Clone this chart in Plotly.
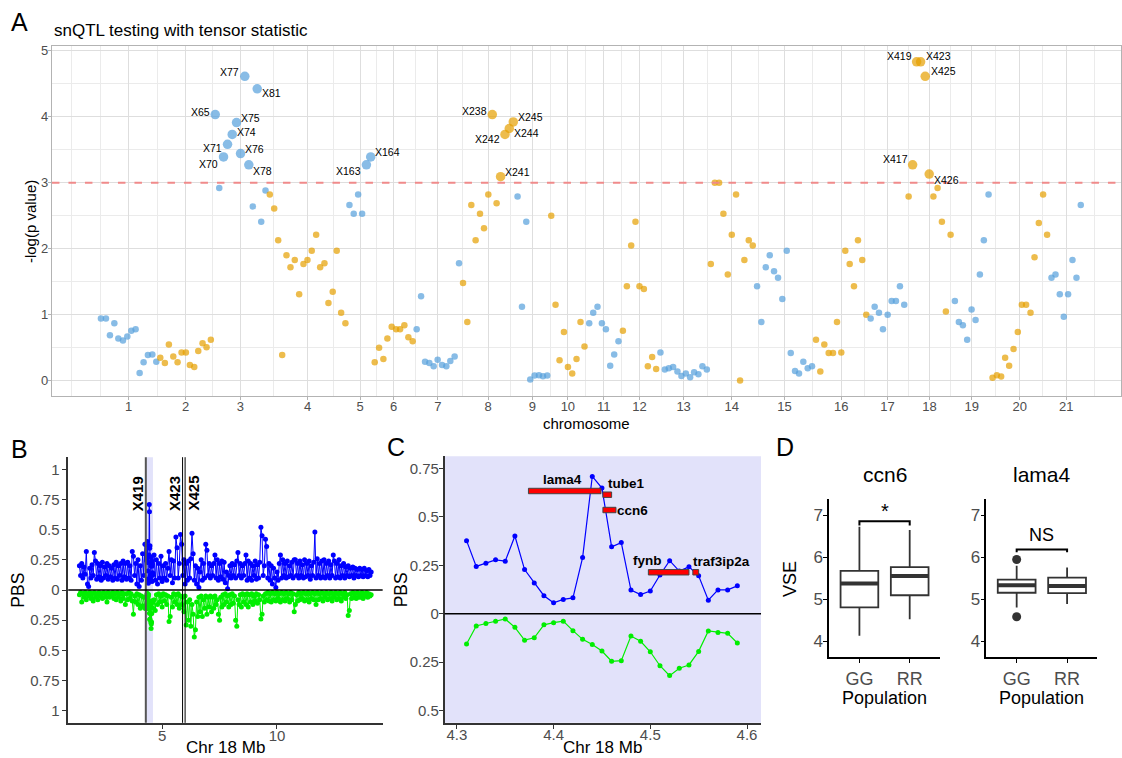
import numpy as np
import plotly.graph_objects as go

FONT = "Liberation Sans, Arial, Helvetica, sans-serif"
W, H = 1122, 758
TICK_GREY = "#4D4D4D"

# ---------------- A: genome-wide snQTL scan ----------------
# cumulative marker position and -log10(p) for each chromosome
chrom_pos = [
    [100.3, 105.3, 109.3, 113.7, 117.7, 122.3, 126.7, 130.7, 135.0, 139.0, 143.0, 147.3, 151.7, 155.7],
    [159.7, 164.3, 168.3, 172.7, 177.0, 181.0, 185.3, 189.3, 193.7, 197.7, 202.0, 206.0, 210.3],
    [214.7, 218.7, 223.0, 227.0, 231.7, 236.0, 240.0, 244.3, 248.3, 252.3, 256.7, 260.7, 265.0],
    [269.3, 273.7, 277.7, 281.7, 286.0, 290.0, 294.3, 298.7, 303.0, 307.0, 311.3, 315.7, 319.7, 324.0,
     328.0, 332.3, 336.3, 340.7, 345.0],
    [349.0, 353.3, 357.7, 361.7, 366.0, 370.3],
    [374.3, 378.7, 383.0, 387.0, 391.3, 395.7, 399.7, 404.0, 408.0, 412.3],
    [416.3, 420.7, 424.7, 429.0, 433.3, 437.3, 441.7, 446.0, 450.0, 454.3, 458.7],
    [462.7, 467.0, 471.0, 475.3, 479.7, 483.7, 488.0, 492.0, 496.3, 500.3, 504.7, 509.0, 513.0],
    [517.3, 521.7, 526.0, 530.0, 534.3, 538.7, 542.7, 547.0],
    [551.0, 555.3, 559.3, 563.7, 567.7, 572.0, 576.3, 580.3, 584.3],
    [589.0, 593.0, 597.3, 601.7, 605.7, 610.0, 614.0, 618.3],
    [622.7, 626.7, 631.0, 635.3, 639.3, 643.7, 647.7, 652.0, 656.0],
    [660.3, 664.7, 668.7, 673.0, 677.3, 681.3, 685.7, 690.0, 694.0, 698.3, 702.3, 706.7],
    [710.7, 714.7, 719.0, 723.3, 727.7, 731.7, 736.0, 740.0, 744.3, 748.7, 752.7],
    [757.0, 761.3, 765.7, 769.7, 774.0, 778.0, 782.3, 786.7, 790.7, 795.0, 799.0, 803.3, 807.7, 812.0],
    [816.0, 820.3, 824.3, 828.7, 833.0, 837.0, 841.3, 845.3, 849.7, 854.0, 858.0, 862.3, 866.3],
    [870.7, 874.7, 879.0, 883.0, 887.7, 891.7, 896.0, 900.0, 904.3],
    [908.7, 912.7, 916.7, 920.7, 925.3, 929.3, 933.5, 937.7, 942.0, 946.0, 950.7],
    [955.0, 959.0, 963.0, 967.3, 971.7, 975.7, 980.0, 984.0, 988.7],
    [992.7, 997.0, 1001.3, 1005.3, 1009.3, 1013.7, 1018.0, 1022.0, 1026.3, 1030.7, 1034.7, 1039.0,
     1043.3, 1047.3],
    [1051.7, 1055.7, 1060.0, 1064.0, 1068.3, 1072.7, 1076.7, 1081.0],
]
chrom_logp = [
    [0.945, 0.945, 0.69, 0.87, 0.64, 0.61, 0.67, 0.76, 0.78, 0.12, 0.28, 0.39, 0.40, 0.29],
    [0.35, 0.27, 0.55, 0.37, 0.28, 0.43, 0.43, 0.24, 0.21, 0.45, 0.57, 0.51, 0.62],
    [4.03, 2.92, 3.39, 3.58, 3.73, 3.91, 3.44, 4.61, 3.27, 2.64, 4.42, 2.41, 2.88],
    [2.82, 2.61, 2.13, 0.39, 1.90, 1.72, 1.83, 1.31, 1.77, 1.83, 1.97, 2.21, 1.72, 1.78, 1.18, 1.35,
     1.97, 1.03, 0.87],
    [2.66, 2.53, 2.82, 2.53, 3.27, 3.39],
    [0.28, 0.50, 0.33, 0.64, 0.82, 0.78, 0.78, 0.84, 0.66, 0.60],
    [0.78, 1.28, 0.29, 0.27, 0.22, 0.32, 0.24, 0.22, 0.30, 0.37, 1.78],
    [1.48, 0.89, 2.66, 2.13, 2.53, 2.31, 2.82, 4.03, 2.69, 3.09, 3.73, 3.82, 3.92],
    [2.79, 1.12, 2.41, 0.02, 0.08, 0.085, 0.07, 0.08],
    [2.50, 1.15, 0.31, 0.74, 0.21, 0.11, 0.33, 0.89, 0.52],
    [0.87, 1.03, 1.12, 0.87, 0.78, 0.23, 0.40, 0.60],
    [0.76, 1.43, 2.05, 2.41, 1.43, 1.39, 0.22, 0.36, 0.18],
    [0.43, 0.17, 0.19, 0.21, 0.14, 0.075, 0.11, 0.055, 0.13, 0.10, 0.22, 0.17],
    [1.77, 3.00, 3.00, 2.53, 1.61, 2.21, 2.82, 0.005, 1.83, 2.13, 2.05],
    [1.43, 0.89, 1.72, 1.90, 1.66, 1.56, 1.24, 1.97, 0.42, 0.15, 0.11, 0.29, 0.19, 0.22],
    [0.62, 0.14, 0.55, 0.42, 0.42, 0.89, 0.43, 1.97, 1.77, 1.43, 2.13, 1.83, 1.00],
    [0.945, 1.12, 1.03, 0.78, 1.00, 1.21, 1.21, 1.43, 1.15],
    [2.79, 3.27, 4.83, 4.83, 4.61, 3.13, 2.79, 2.92, 2.41, 1.05, 2.21],
    [1.21, 0.89, 0.84, 0.62, 1.08, 0.92, 1.61, 2.13, 2.82],
    [0.045, 0.085, 0.065, 0.35, 0.23, 0.48, 0.74, 1.15, 1.15, 1.03, 1.87, 2.39, 2.82, 2.21],
    [1.56, 1.61, 1.31, 0.97, 1.31, 1.83, 1.56, 2.66],
]
chrom_names = [str(i) for i in range(1, 22)]
sig_threshold = 3.0
sig_labels = ["X65", "X70", "X71", "X74", "X75", "X76", "X77", "X78", "X81", "X163", "X164",
              "X238", "X241", "X242", "X244", "X245", "X417", "X419", "X423", "X425", "X426"]
# label placement (pixels right, pixels down) relative to each point
sig_label_offset = [(-15, -3), (-15, 7), (-15, 4), (14, -2), (14, -5), (14, -5), (-15, -4), (14, 6),
                    (14, 4), (-18, 6), (17, -5), (-18, -4), (17, -5), (-17, 5), (17, 5), (17, -5),
                    (-17, -6), (-17, -6), (18, -6), (18, -5), (17, 6)]

# ---------------- B / C: PBS along chromosome 18 ----------------
# 50 kb windows outside the focal region (start Mb, step Mb)
pbs_left_start, pbs_right_start, pbs_step = 1.40, 4.65, 0.05
pbs_rr_left = [0.20, 0.12, 0.22, 0.10, 0.19, 0.13, 0.32, 0.05, 0.03, 0.18,
               0.10, 0.21, 0.12, 0.31, 0.24, 0.09, 0.22, 0.11, 0.20, 0.08,
               0.23, 0.10, 0.19, 0.12, 0.22, 0.09, 0.20, 0.11, 0.18, 0.08,
               0.21, 0.10, 0.23, 0.09, 0.20, 0.12, 0.22, 0.08, 0.24, 0.11,
               0.22, 0.09, 0.23, 0.10, 0.20, 0.08, 0.32, 0.28, 0.12, 0.22,
               0.05, 0.25, 0.03, 0.20, 0.08, 0.30, 0.12, 0.38]
pbs_gg_left = [0.04, 0.02, 0.10, 0.03, 0.06, 0.02, 0.08, 0.03, 0.05, 0.02,
               0.07, 0.03, 0.09, 0.02, 0.06, 0.03, 0.08, 0.02, 0.05, 0.03,
               0.07, 0.02, 0.06, 0.03, 0.10, 0.02, 0.06, 0.03, 0.05, 0.02,
               0.07, 0.03, 0.08, 0.02, 0.06, 0.03, 0.09, 0.02, 0.07, 0.03,
               0.12, 0.03, 0.08, 0.02, 0.07, 0.03, 0.09, 0.20, 0.05, 0.10,
               0.03, 0.12, 0.04, 0.15, 0.05, 0.13, 0.06, 0.15]
pbs_rr_right = [0.29, 0.08, 0.25, 0.05, 0.22, 0.10, 0.28, 0.07, 0.20, 0.10,
                0.22, 0.08, 0.18, 0.32, 0.12, 0.25, 0.06, 0.24, 0.10, 0.44,
                0.35, 0.10, 0.22, 0.46, 0.38, 0.12, 0.25, 0.05, 0.22, 0.08,
                0.24, 0.10, 0.26, 0.47, 0.30, 0.08, 0.20, 0.05, 0.18, 0.02,
                0.15, 0.25, 0.08, 0.22, 0.10, 0.38, 0.33, 0.12, 0.22, 0.10,
                0.20, 0.12, 0.22, 0.29, 0.10, 0.25, 0.08, 0.22, 0.11, 0.24,
                0.09, 0.23, 0.06, 0.15, 0.01, 0.12, 0.20, 0.10, 0.22, 0.12,
                0.21, 0.10, 0.24, 0.31, 0.12, 0.22, 0.10, 0.20, 0.12, 0.22,
                0.29, 0.08, 0.24, 0.10, 0.22, 0.08, 0.20, 0.12, 0.24, 0.09,
                0.21, 0.10, 0.23, 0.52, 0.45, 0.12, 0.20, 0.42, 0.36, 0.10,
                0.22, 0.08, 0.20, 0.05, 0.18, 0.10, 0.02, 0.15, 0.08, 0.22,
                0.29, 0.10, 0.25, 0.12, 0.22, 0.10, 0.24, 0.11, 0.20, 0.12,
                0.23, 0.10, 0.25, 0.25, 0.12, 0.22, 0.10, 0.24, 0.12, 0.21,
                0.10, 0.25, 0.11, 0.22, 0.12, 0.24, 0.09, 0.20, 0.12, 0.23,
                0.48, 0.10, 0.26, 0.12, 0.22, 0.10, 0.24, 0.11, 0.25, 0.10,
                0.22, 0.12, 0.24, 0.10, 0.21, 0.12, 0.29, 0.24, 0.10, 0.22,
                0.11, 0.25, 0.10, 0.20, 0.12, 0.22, 0.10, 0.19, 0.12, 0.20,
                0.11, 0.18, 0.12, 0.19, 0.10, 0.18, 0.12, 0.17, 0.11, 0.18,
                0.12, 0.17, 0.11, 0.18, 0.12, 0.16, 0.11, 0.17, 0.12, 0.15]
pbs_gg_right = [0.08, 0.17, 0.04, 0.12, 0.03, 0.10, 0.05, 0.14, 0.03, 0.09,
                0.04, 0.12, 0.05, 0.26, 0.22, 0.06, 0.14, 0.03, 0.10, 0.04,
                0.12, 0.03, 0.15, 0.05, 0.12, 0.06, 0.18, 0.05, 0.29, 0.10,
                0.25, 0.08, 0.30, 0.12, 0.20, 0.39, 0.33, 0.10, 0.22, 0.06,
                0.18, 0.05, 0.22, 0.08, 0.15, 0.05, 0.20, 0.06, 0.14, 0.05,
                0.18, 0.06, 0.15, 0.05, 0.12, 0.08, 0.20, 0.25, 0.06, 0.14,
                0.04, 0.12, 0.03, 0.10, 0.05, 0.14, 0.04, 0.12, 0.03, 0.11,
                0.05, 0.25, 0.30, 0.08, 0.12, 0.04, 0.14, 0.03, 0.10, 0.04,
                0.12, 0.03, 0.14, 0.04, 0.10, 0.03, 0.12, 0.05, 0.09, 0.03,
                0.11, 0.04, 0.08, 0.24, 0.20, 0.05, 0.10, 0.03, 0.08, 0.02,
                0.09, 0.03, 0.10, 0.02, 0.08, 0.03, 0.09, 0.02, 0.07, 0.03,
                0.10, 0.02, 0.08, 0.03, 0.09, 0.02, 0.07, 0.03, 0.10, 0.02,
                0.08, 0.03, 0.18, 0.12, 0.04, 0.09, 0.02, 0.08, 0.03, 0.07,
                0.02, 0.09, 0.03, 0.08, 0.02, 0.10, 0.03, 0.07, 0.02, 0.08,
                0.03, 0.12, 0.02, 0.08, 0.03, 0.07, 0.02, 0.09, 0.03, 0.06,
                0.02, 0.08, 0.03, 0.07, 0.02, 0.09, 0.03, 0.06, 0.02, 0.08,
                0.03, 0.07, 0.02, 0.09, 0.03, 0.06, 0.02, 0.07, 0.04, 0.21,
                0.17, 0.03, 0.07, 0.02, 0.06, 0.03, 0.07, 0.02, 0.06, 0.03,
                0.06, 0.02, 0.07, 0.03, 0.05, 0.02, 0.06, 0.03, 0.05, 0.04]
# 10 kb windows across the focal region
focal_start, focal_step = 4.31, 0.01
focal_rr = [0.377, 0.244, 0.261, 0.278, 0.271, 0.401, 0.228, 0.158, 0.093, 0.057, 0.074, 0.082, 0.290,
            0.708, 0.648, 0.345, 0.367, 0.122, 0.099, 0.117, 0.200, 0.274, 0.220, 0.242, 0.196, 0.070,
            0.123, 0.123, 0.144]
focal_gg = [0.156, 0.063, 0.050, 0.038, 0.027, 0.070, 0.136, 0.124, 0.057, 0.046, 0.038, 0.087, 0.132,
            0.158, 0.192, 0.245, 0.242, 0.115, 0.142, 0.196, 0.268, 0.319, 0.281, 0.264, 0.194, 0.089,
            0.096, 0.101, 0.151]
focal_region = [4.3, 4.6]
peak_markers = ["X419", "X423", "X425"]
peak_marker_mb = [4.29, 5.89, 6.00]

genes = ["lama4", "tube1", "ccn6", "fynb", "traf3ip2a"]
gene_start = [4.374, 4.451, 4.451, 4.498, 4.544]
gene_end = [4.449, 4.460, 4.4645, 4.540, 4.550]
gene_track = [0.633, 0.614, 0.535, 0.214, 0.214]
gene_label_offset = [(-2, -12), (19, -11), (23, 0), (-21, -12), (26, -11)]

# ---------------- D: VSE by population ----------------
box_genes = ["ccn6", "lama4"]
populations = ["GG", "RR"]
vse_q1 = [[4.81, 5.10], [5.16, 5.15]]
vse_median = [[5.38, 5.56], [5.34, 5.32]]
vse_q3 = [[5.68, 5.77], [5.47, 5.52]]
vse_low = [[4.14, 4.53], [4.81, 4.89]]
vse_high = [[6.73, 6.65], [5.80, 5.76]]
vse_outliers = [[[], []], [[5.95, 4.59], []]]
signif_text = ["*", "NS"]
signif_y = [6.86, 6.19]


def px_x(p):
    return p / W


def px_y(p):
    return 1 - p / H


fig = go.Figure()
shapes, annotations = [], []

# ---- A traces ----
BLUE_A, ORANGE_A = "#56A0DB", "#E69F00"
all_x, all_y = [], []
for i, (xs, ys) in enumerate(zip(chrom_pos, chrom_logp)):
    col = BLUE_A if i % 2 == 0 else ORANGE_A
    sizes = [9.5 if v > sig_threshold else 6.5 for v in ys]
    fig.add_trace(go.Scatter(x=xs, y=ys, mode="markers", xaxis="x", yaxis="y",
                             marker=dict(color=col, size=sizes, line=dict(width=0)),
                             showlegend=False, hoverinfo="skip"))
    all_x += xs
    all_y += ys

centers = [(min(xs) + max(xs)) / 2 for xs in chrom_pos]
step = centers[1] - centers[0]
ext = [centers[0] - step] + centers + [centers[-1] + step]
minor_x = [ext[0]] + [(a + b) / 2 for a, b in zip(ext[:-1], ext[1:])]

sig_pts = sorted([(x, y) for x, y in zip(all_x, all_y) if y > sig_threshold])
for (x, y), lab, (dx, dy) in zip(sig_pts, sig_labels, sig_label_offset):
    annotations.append(dict(x=x, y=y, xref="x", yref="y", text=lab, showarrow=False,
                            xshift=dx, yshift=-dy, font=dict(family=FONT, size=10.5, color="black")))

shapes.append(dict(type="line", xref="x domain", yref="y", x0=0, x1=1, y0=sig_threshold,
                   y1=sig_threshold, line=dict(color="#F08A8A", width=2, dash="7.5px,9px"), layer="above"))

span = max(all_x) - min(all_x)
a_x0 = min(all_x) - 0.05 * span
a_y = [min(all_y) - 0.05 * (max(all_y) - min(all_y)), max(all_y) + 0.05 * (max(all_y) - min(all_y))]


# ---- B traces ----
def windows(start, stepv, n):
    return [round(start + stepv * k, 3) for k in range(n)]


b_left_x = windows(pbs_left_start, pbs_step, len(pbs_rr_left))
b_focal_x = windows(focal_start, focal_step, len(focal_rr))
b_right_x = windows(pbs_right_start, pbs_step, len(pbs_rr_right))
b_x = b_left_x + b_focal_x + b_right_x
b_rr = pbs_rr_left + focal_rr + pbs_rr_right
b_gg = pbs_gg_left + focal_gg + pbs_gg_right

RR_BLUE, GG_GREEN = "#0000FF", "#00EE00"
fig.add_trace(go.Scatter(x=b_x, y=b_rr, mode="lines+markers", xaxis="x2", yaxis="y2",
                         line=dict(color=RR_BLUE, width=1), marker=dict(color=RR_BLUE, size=5),
                         showlegend=False, hoverinfo="skip"))
fig.add_trace(go.Scatter(x=b_x, y=[-v for v in b_gg], mode="lines+markers", xaxis="x2", yaxis="y2",
                         line=dict(color=GG_GREEN, width=1), marker=dict(color=GG_GREEN, size=5),
                         showlegend=False, hoverinfo="skip"))

LAV = "#E2E2FA"
shapes.append(dict(type="rect", xref="x2", yref="y2 domain", x0=focal_region[0], x1=focal_region[1],
                   y0=0, y1=1, fillcolor=LAV, line=dict(width=0), layer="below"))
for name, mb in zip(peak_markers, peak_marker_mb):
    first = name == peak_markers[0]
    shapes.append(dict(type="line", xref="x2", yref="y2 domain", x0=mb, x1=mb, y0=0, y1=1,
                       line=dict(color="#555555" if first else "black", width=2 if first else 1)))
    annotations.append(dict(x=mb, y=0.8, xref="x2", yref="y2", text="<b>%s</b>" % name, textangle=-90,
                            showarrow=False, xshift=8 if name == peak_markers[-1] else -8,
                            font=dict(family=FONT, size=15, color="black")))
shapes.append(dict(type="line", xref="x2 domain", yref="y2", x0=0, x1=1, y0=0, y1=0,
                   line=dict(color="black", width=1.5)))

# ---- C traces ----
fig.add_trace(go.Scatter(x=b_focal_x, y=focal_rr, mode="lines+markers", xaxis="x3", yaxis="y3",
                         line=dict(color=RR_BLUE, width=1.2), marker=dict(color=RR_BLUE, size=5),
                         showlegend=False, hoverinfo="skip"))
fig.add_trace(go.Scatter(x=b_focal_x, y=[-v for v in focal_gg], mode="lines+markers", xaxis="x3",
                         yaxis="y3", line=dict(color=GG_GREEN, width=1.2),
                         marker=dict(color=GG_GREEN, size=5), showlegend=False, hoverinfo="skip"))
shapes.append(dict(type="rect", xref="x3 domain", yref="y3 domain", x0=0, x1=1, y0=0, y1=1,
                   fillcolor=LAV, line=dict(width=0), layer="below"))
shapes.append(dict(type="line", xref="x3 domain", yref="y3", x0=0, x1=1, y0=0, y1=0,
                   line=dict(color="black", width=1.5)))
for g, s, e, t, (dx, dy) in zip(genes, gene_start, gene_end, gene_track, gene_label_offset):
    shapes.append(dict(type="rect", xref="x3", yref="y3", x0=s, x1=e, y0=t - 0.014, y1=t + 0.014,
                       fillcolor="#FF0000", line=dict(color="#444444", width=1)))
    annotations.append(dict(x=(s + e) / 2, y=t, xref="x3", yref="y3", text="<b>%s</b>" % g,
                            showarrow=False, xshift=dx, yshift=-dy,
                            font=dict(family=FONT, size=13.5, color="black")))

# ---- D traces ----
BOX_LINE = "#333333"
for k in range(len(box_genes)):
    xa, ya = "x%d" % (4 + k), "y%d" % (4 + k)
    pos = [1, 2]
    fig.add_trace(go.Box(x=pos, q1=vse_q1[k], median=vse_median[k], q3=vse_q3[k],
                         lowerfence=vse_low[k], upperfence=vse_high[k], width=0.75, whiskerwidth=0,
                         fillcolor="white", line=dict(color=BOX_LINE, width=1.8), boxpoints=False,
                         xaxis=xa, yaxis=ya, showlegend=False, hoverinfo="skip"))
    mx, my = [], []
    for p, m in zip(pos, vse_median[k]):
        mx += [p - 0.375, p + 0.375, None]
        my += [m, m, None]
    fig.add_trace(go.Scatter(x=mx, y=my, mode="lines", line=dict(color=BOX_LINE, width=4),
                             xaxis=xa, yaxis=ya, showlegend=False, hoverinfo="skip"))
    ox, oy = [], []
    for p, outs in zip(pos, vse_outliers[k]):
        ox += [p] * len(outs)
        oy += outs
    if ox:
        fig.add_trace(go.Scatter(x=ox, y=oy, mode="markers", marker=dict(color=BOX_LINE, size=9),
                                 xaxis=xa, yaxis=ya, showlegend=False, hoverinfo="skip"))
    tip = 0.1 if k == 0 else 0.07
    by = signif_y[k]
    fig.add_trace(go.Scatter(x=[1, 1, 2, 2], y=[by - tip, by, by, by - tip], mode="lines",
                             line=dict(color="black", width=2), xaxis=xa, yaxis=ya,
                             showlegend=False, hoverinfo="skip"))
    annotations.append(dict(x=1.5, y=by, xref=xa, yref=ya, text=signif_text[k], showarrow=False,
                            yanchor="bottom", yshift=-3 if k == 0 else 2,
                            font=dict(family=FONT, size=20 if k == 0 else 18, color="black")))

# ---- axes ----
axis_common = dict(zeroline=False, showgrid=False, ticks="outside", ticklen=4,
                   tickfont=dict(family=FONT, size=15, color=TICK_GREY))
layout = dict(width=W, height=H, margin=dict(l=0, r=0, t=0, b=0), paper_bgcolor="white",
              plot_bgcolor="rgba(0,0,0,0)", showlegend=False, font=dict(family=FONT))

layout["xaxis"] = dict(domain=[px_x(52), 1.0], range=[a_x0, a_x0 + (W - 52)], anchor="y",
                       tickmode="array", tickvals=centers, ticktext=chrom_names, zeroline=False,
                       showgrid=True, gridcolor="#DEDEDE", gridwidth=1,
                       minor=dict(tickmode="array", tickvals=minor_x, showgrid=True, gridcolor="#EBEBEB",
                                  gridwidth=1, ticks=""),
                       showline=True, linecolor="#B3B3B3", linewidth=1, mirror=True,
                       ticks="outside", ticklen=3, tickcolor="#B3B3B3", ticklabelstandoff=-5,
                       tickfont=dict(family=FONT, size=13, color=TICK_GREY))
layout["yaxis"] = dict(domain=[px_y(395), px_y(43)], range=a_y, anchor="x",
                       tickmode="array", tickvals=[0, 1, 2, 3, 4, 5], zeroline=False,
                       showgrid=True, gridcolor="#DEDEDE", gridwidth=1,
                       minor=dict(tickmode="array", tickvals=[0.5, 1.5, 2.5, 3.5, 4.5], showgrid=True,
                                  gridcolor="#EBEBEB", gridwidth=1, ticks=""),
                       showline=True, linecolor="#B3B3B3", linewidth=1, mirror=True,
                       ticks="outside", ticklen=3, tickcolor="#B3B3B3", ticklabelstandoff=-3,
                       tickfont=dict(family=FONT, size=13, color=TICK_GREY))

pbs_ticks = [-1, -0.75, -0.5, -0.25, 0, 0.25, 0.5, 0.75, 1]
layout["xaxis2"] = dict(axis_common, domain=[px_x(68.3), px_x(383)], range=[0.913, 14.6], anchor="y2",
                        tickvals=[5, 10], showline=True, linecolor="#333333", linewidth=1.5,
                        tickcolor="#333333", ticklabelstandoff=-6)
layout["yaxis2"] = dict(axis_common, domain=[px_y(722.7), px_y(456)], range=[-1.1, 1.1], anchor="x2",
                        tickvals=pbs_ticks, ticktext=["%g" % abs(v) for v in pbs_ticks],
                        showline=True, linecolor="#333333", linewidth=1.5, tickcolor="#333333")
c_ticks = [-0.5, -0.25, 0, 0.25, 0.5, 0.75]
layout["xaxis3"] = dict(axis_common, domain=[px_x(445), px_x(761.7)], range=[4.2873, 4.6145],
                        anchor="y3", tickvals=[4.3, 4.4, 4.5, 4.6], showline=True, linecolor="#333333",
                        linewidth=1.5, tickcolor="#333333", ticklabelstandoff=-7)
layout["yaxis3"] = dict(axis_common, domain=[px_y(722.7), px_y(455)], range=[-0.5625, 0.8125],
                        anchor="x3", tickvals=c_ticks, ticktext=["%g" % abs(v) for v in c_ticks],
                        showline=True, linecolor="#333333", linewidth=1.5, tickcolor="#333333",
                        ticklabelstandoff=-3)
d_dom = [[830, 940.7], [987.3, 1098.3]]
for k in range(2):
    layout["xaxis%d" % (4 + k)] = dict(axis_common, domain=[px_x(d_dom[k][0]), px_x(d_dom[k][1])],
                                       range=[0.4, 2.6], anchor="y%d" % (4 + k), tickvals=[1, 2],
                                       ticktext=populations, showline=True, linecolor="black",
                                       linewidth=1.8, tickcolor="black",
                                       tickfont=dict(family=FONT, size=18, color=TICK_GREY))
    layout["yaxis%d" % (4 + k)] = dict(axis_common, domain=[px_y(656.7), px_y(498.3)], range=[3.63, 7.38],
                                       anchor="x%d" % (4 + k), tickvals=[4, 5, 6, 7], showline=True,
                                       linecolor="black", linewidth=1.8, tickcolor="black",
                                       ticklabelstandoff=-3,
                                       tickfont=dict(family=FONT, size=17, color=TICK_GREY))


def text_px(x, y, s, size, angle=0, color="black", xanchor="center"):
    annotations.append(dict(x=px_x(x), y=px_y(y), xref="paper", yref="paper", text=s, showarrow=False,
                            textangle=angle, xanchor=xanchor, yanchor="middle",
                            font=dict(family=FONT, size=size, color=color)))


# panel tags, titles, axis titles
text_px(20, 19, "A", 25)
text_px(20, 448, "B", 25)
text_px(396, 446, "C", 25)
text_px(786, 446, "D", 25)
text_px(52, 28, "snQTL testing with tensor statistic", 17, xanchor="left")
text_px(30, 219, "-log(p value)", 15, angle=-90)
text_px(587, 422, "chromosome", 15)
text_px(18, 589, "PBS", 17.5, angle=-90)
text_px(226, 747, "Chr 18 Mb", 17)
text_px(401, 589, "PBS", 17.5, angle=-90)
text_px(603, 747, "Chr 18 Mb", 17)
text_px(790, 578, "VSE", 18, angle=-90)
for k, g in enumerate(box_genes):
    cx = (d_dom[k][0] + d_dom[k][1]) / 2
    text_px(cx, 473, g, 21)
    text_px(cx, 698, "Population", 18)

layout["shapes"] = shapes
layout["annotations"] = annotations
fig.update_layout(**layout)
fig.write_html("out.html")
